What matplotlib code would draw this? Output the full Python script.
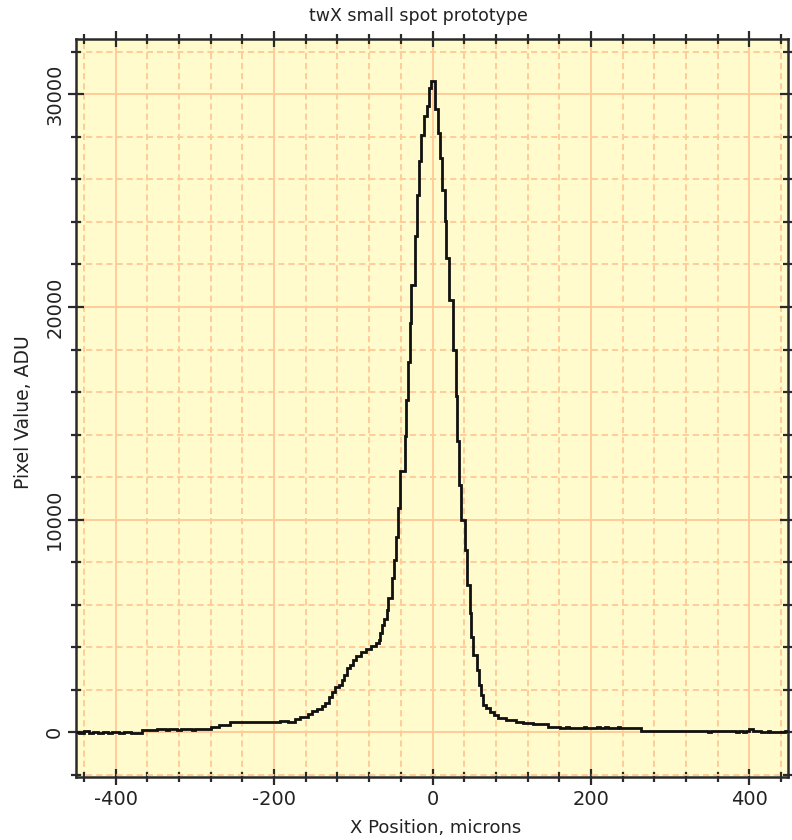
import matplotlib
matplotlib.use("Agg")
import matplotlib.pyplot as plt
from matplotlib.ticker import MultipleLocator

# ---- data ----
x_starts = [-450, -446, -440, -433, -428, -422, -416, -410, -404, -396, -390, -380,
            -367, -348, -337, -333, -322, -318, -304, -300, -279, -270, -256,
            -193, -183, -174, -167.5, -157, -152.7, -146.4, -140.1, -136.0, -130.5,
            -127.5, -123.3, -117.9, -114.9, -112.0, -107.8, -104.4, -100.3, -96.0,
            -89.7, -83.4, -77.1, -71.6, -67.5, -65.7, -63.2, -61.2, -58.1, -56.1,
            -51.8, -48.6, -46.4, -43.9, -40.7, -35.1, -32.9, -30.9, -28.8, -26.6,
            -21.6, -19.5, -17.0, -14.0, -10.7, -6.9, -4.4, -1.4, 3.7, 6.9, 10.0,
            12.5, 15.4, 17.5, 20.4, 26.1, 29.3, 31.4, 33.4, 36.4, 40.6, 43.1, 46.9,
            49.1, 51.1, 56.1, 58.6, 61.7, 63.7, 67.1, 72.1, 77.2, 82.6, 93.2, 105.8,
            114.1, 126.7, 145.7, 160.4, 168.9, 172, 190.7, 194, 208, 211, 217.8, 221,
            234, 237, 263.5, 347.5, 351, 383.3, 387, 391.6, 395, 400, 404, 414.8,
            423, 426, 445]
values = [30, -20, 40, -30, 30, -20, 20, -40, 20, -30, 20, -20,
          100, 160, 110, 160, 110, 160, 120, 160, 260, 330, 470,
          530, 480, 612, 734, 847, 1002, 1082, 1237, 1393, 1675,
          1910, 2117, 2225, 2461, 2696, 3011, 3166, 3401, 3590,
          3792, 3905, 4060, 4216, 4343, 4658, 5048, 5317, 5754, 6305,
          7246, 8107, 9203, 10539, 12308, 13908, 15635, 17390, 19257, 21045,
          23318, 25280, 26847, 28103, 28964, 29434, 30300, 30650, 29312, 28183, 27007,
          25515, 24024, 22302, 20340, 17987, 15790, 13673, 11635, 9989, 8577, 6930, 5627,
          4498, 3637, 2931, 2225, 1755, 1285, 1129, 969, 814, 687, 579, 499,
          430, 390, 263, 188, 260, 188, 250, 188, 250, 188, 250, 188,
          250, 188, 75, 20, 75, 20, 75, 20, 75, 130, 75, 0,
          60, 0, 60]
x_end = 450

title = "twX small spot prototype"
xlabel = "X Position, microns"
ylabel = "Pixel Value, ADU"

plt.rcParams['font.family'] = ['DejaVu Sans']
plt.rcParams['axes.unicode_minus'] = False

fig = plt.figure(figsize=(7.92, 8.4), dpi=100)
ax = fig.add_axes([76/792, 1 - 776.8/840, (788.3 - 76)/792, (776.8 - 38.7)/840])

bg = '#FFFBCC'
gridc = '#FFCC99'
ax.set_facecolor(bg)
ax.set_axisbelow(True)

ax.stairs(values, x_starts + [x_end], baseline=None, color='#111111', lw=2.0, zorder=3)

ax.set_xlim(-450, 449)
ax.set_ylim(-2100, 32620)

ax.xaxis.set_major_locator(MultipleLocator(200))
ax.xaxis.set_minor_locator(MultipleLocator(40))
ax.yaxis.set_major_locator(MultipleLocator(10000))
ax.yaxis.set_minor_locator(MultipleLocator(2000))

ax.grid(which='major', color=gridc, lw=1.4, ls='-')
ax.grid(which='minor', color=gridc, lw=1.4, ls=(0, (3.2, 2.0)))

for s in ax.spines.values():
    s.set_color('#2a2a2a')
    s.set_linewidth(1.8)

ax.tick_params(which='both', direction='inout', top=True, right=True,
               color='#2a2a2a', width=1.6, labelsize=14, labelcolor='#222222')
ax.tick_params(which='major', length=11)
ax.tick_params(which='minor', length=7)
ax.tick_params(axis='x', pad=4)
ax.tick_params(axis='y', labelrotation=90, pad=3)
for lab in ax.get_yticklabels():
    lab.set_va('center')

fig.text(418/792, 1 - 16/840, title, ha='center', va='center', fontsize=12.5, color='#222222')
fig.text(436/792, 1 - 828/840, xlabel, ha='center', va='center', fontsize=13, color='#222222')
fig.text(24/792, 1 - 412/840, ylabel, ha='center', va='center', rotation=90, fontsize=13.5, color='#222222')

fig.savefig('out.png', dpi=100)
